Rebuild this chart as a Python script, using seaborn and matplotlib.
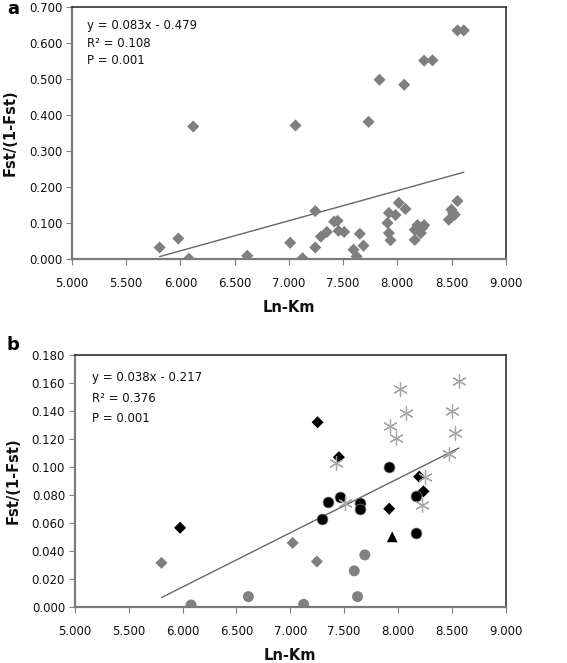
import numpy as np
import pandas as pd
import seaborn as sns
import matplotlib.pyplot as plt
from matplotlib.ticker import FormatStrFormatter

# Panel a: all population pairs
a_x = [5.808, 5.980, 6.078, 6.118, 6.616, 7.012, 7.061, 7.126, 7.243, 7.243,
       7.295, 7.350, 7.418, 7.449, 7.458, 7.510, 7.596, 7.624, 7.654, 7.688,
       7.735, 7.836, 7.909, 7.922, 7.922, 7.937, 7.983, 8.014, 8.063, 8.075,
       8.161, 8.161, 8.186, 8.201, 8.217, 8.232, 8.247, 8.247, 8.324, 8.475,
       8.499, 8.515, 8.530, 8.555, 8.555, 8.613]
a_y = [0.032, 0.057, 0.001, 0.368, 0.009, 0.045, 0.371, 0.002, 0.032, 0.133,
       0.062, 0.075, 0.104, 0.106, 0.078, 0.075, 0.026, 0.007, 0.070, 0.037,
       0.381, 0.498, 0.100, 0.128, 0.072, 0.052, 0.122, 0.156, 0.484, 0.139,
       0.053, 0.081, 0.094, 0.081, 0.072, 0.087, 0.094, 0.551, 0.552, 0.109,
       0.137, 0.128, 0.123, 0.161, 0.635, 0.635]
a_slope, a_intercept = 0.0836, -0.479
a_text = ["y = 0.083x - 0.479", "R² = 0.108", "P = 0.001"]

# Panel b: groups of pairs
b_gray_diamond_x = [5.804, 7.022, 7.247]
b_gray_diamond_y = [0.0315, 0.0458, 0.0325]
b_black_diamond_x = [5.977, 7.253, 7.451, 7.918, 8.196, 8.236]
b_black_diamond_y = [0.0566, 0.132, 0.107, 0.0702, 0.0931, 0.0826]
b_black_circle_x = [7.297, 7.352, 7.464, 7.649, 7.649, 7.912, 8.165, 8.165]
b_black_circle_y = [0.0625, 0.0747, 0.0783, 0.0740, 0.0699, 0.1003, 0.0795, 0.053]
b_gray_circle_x = [6.079, 6.611, 7.124, 7.594, 7.624, 7.692]
b_gray_circle_y = [0.0014, 0.0074, 0.0019, 0.0258, 0.0074, 0.0372]
b_triangle_x = [7.946]
b_triangle_y = [0.0501]
b_star_x = [7.420, 7.510, 7.930, 7.980, 8.020, 8.076, 8.224, 8.249, 8.475,
            8.502, 8.527, 8.564]
b_star_y = [0.1029, 0.0745, 0.1294, 0.1206, 0.1556, 0.1387, 0.0728, 0.0931,
            0.1093, 0.1397, 0.1241, 0.1611]
b_slope, b_intercept = 0.0387, -0.2179
b_text = ["y = 0.038x - 0.217", "R² = 0.376", "P = 0.001"]

x_ticks = np.arange(5.0, 9.01, 0.5)

sns.set_style("white")
plt.rcParams['font.family'] = ['DejaVu Sans']
plt.rcParams['text.color'] = '#111111'
plt.rcParams['axes.labelcolor'] = '#111111'

fig = plt.figure(figsize=(5.67, 6.63), dpi=100)
ax1 = fig.add_axes([0.127, 0.6094, 0.765, 0.380])
ax2 = fig.add_axes([0.132, 0.0845, 0.760, 0.380])


def style_axis(ax, ymax, ystep):
    ax.set_xlim(5.0, 9.0)
    ax.set_ylim(0, ymax)
    ax.set_xticks(x_ticks)
    ax.set_yticks(np.arange(0, ymax + ystep / 2, ystep))
    ax.xaxis.set_major_formatter(FormatStrFormatter('%.3f'))
    ax.yaxis.set_major_formatter(FormatStrFormatter('%.3f'))
    ax.tick_params(axis='both', direction='out', length=4, width=0.8,
                   color='#808080', labelsize=8.5, labelcolor='#111111',
                   bottom=True, left=True, pad=3)
    ax.tick_params(axis='x', pad=9)
    for side in ['top', 'right']:
        ax.spines[side].set_color('#333333')
        ax.spines[side].set_linewidth(1.2)
    for side in ['left', 'bottom']:
        ax.spines[side].set_color('#7a7a7a')
        ax.spines[side].set_linewidth(1.6)
    ax.set_xlabel("Ln-Km", fontsize=10.5, fontweight='bold', labelpad=7)
    ax.set_ylabel("Fst/(1-Fst)", fontsize=10.5, fontweight='bold', labelpad=8)


def draw_fit(ax, xs, slope, intercept):
    fx = np.array([min(xs), max(xs)])
    sns.lineplot(x=fx, y=slope * fx + intercept, ax=ax, color='#666666',
                 linewidth=1.0)


def draw_text(ax, lines, x, y0, dy):
    for i, t in enumerate(lines):
        ax.text(x, y0 - i * dy, t, transform=ax.transAxes, fontsize=8.5,
                va='center', ha='left', color='#111111')


# Panel a
sns.scatterplot(x=a_x, y=a_y, ax=ax1, marker='D', s=38, color='#7f7f7f',
                edgecolor='none', zorder=3)
draw_fit(ax1, a_x, a_slope, a_intercept)
style_axis(ax1, 0.7, 0.1)
draw_text(ax1, a_text, 0.035, 0.925, 0.068)
fig.text(0.012, 0.986, "a", fontsize=13, fontweight='bold', va='center',
         color='black')

# Panel b
sns.scatterplot(x=b_gray_diamond_x, y=b_gray_diamond_y, ax=ax2, marker='D',
                s=38, color='#7f7f7f', edgecolor='none', zorder=3)
sns.scatterplot(x=b_black_diamond_x, y=b_black_diamond_y, ax=ax2, marker='D',
                s=38, color='black', edgecolor='none', zorder=3)
sns.scatterplot(x=b_gray_circle_x, y=b_gray_circle_y, ax=ax2, marker='o',
                s=62, color='#808080', edgecolor='none', zorder=3)
sns.scatterplot(x=b_black_circle_x, y=b_black_circle_y, ax=ax2, marker='o',
                s=62, color='black', edgecolor='#888888', linewidth=0.5, zorder=3)
sns.scatterplot(x=b_triangle_x, y=b_triangle_y, ax=ax2, marker='^',
                s=60, color='black', edgecolor='none', zorder=3)
ax2.scatter(b_star_x, b_star_y, marker=(6, 2, 0), s=100, color='#a6a6a6',
            linewidth=0.9, zorder=3)
draw_fit(ax2, b_gray_diamond_x + b_star_x, b_slope, b_intercept)
style_axis(ax2, 0.18, 0.02)
draw_text(ax2, b_text, 0.04, 0.909, 0.081)
fig.text(0.012, 0.48, "b", fontsize=13, fontweight='bold', va='center',
         color='black')

fig.savefig("out.png", dpi=100)
